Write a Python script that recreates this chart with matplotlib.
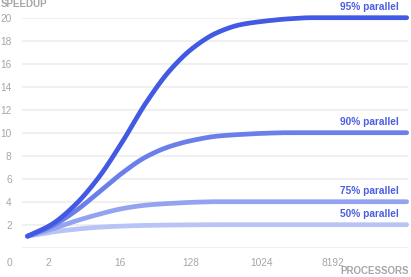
import numpy as np
import matplotlib
matplotlib.use("Agg")
import matplotlib.pyplot as plt
from matplotlib.ticker import FixedLocator, FixedFormatter, NullLocator
import matplotlib.transforms as mtransforms

plt.rcParams["font.family"] = ["Liberation Sans", "DejaVu Sans"]

# Processor counts (powers of two) and measured speedups per parallel fraction
processors = [1, 2, 4, 8, 16, 32, 64, 128, 256, 512, 1024, 2048, 4096, 8192, 16384, 32768, 65536]
speedup_95 = [1.0, 2.0, 3.7, 6.1, 9.2, 12.6, 15.4, 17.4, 18.7, 19.4, 19.7, 19.9, 20.0, 20.0, 20.0, 20.0, 20.0]
speedup_90 = [1.0, 1.85, 3.15, 4.8, 6.5, 7.9, 8.8, 9.35, 9.7, 9.85, 9.95, 10.0, 10.0, 10.0, 10.0, 10.0, 10.0]
speedup_75 = [1.0, 1.6, 2.3, 2.9, 3.4, 3.7, 3.85, 3.95, 4.0, 4.0, 4.0, 4.0, 4.0, 4.0, 4.0, 4.0, 4.0]
speedup_50 = [1.0, 1.35, 1.6, 1.78, 1.88, 1.94, 1.97, 1.99, 2.0, 2.0, 2.0, 2.0, 2.0, 2.0, 2.0, 2.0, 2.0]

series_labels = ["95% parallel", "90% parallel", "75% parallel", "50% parallel"]
x_ticks = [2, 16, 128, 1024, 8192]
x_tick_labels = ["2", "16", "128", "1024", "8192"]
y_ticks = [0, 2, 4, 6, 8, 10, 12, 14, 16, 18, 20]
y_tick_labels = ["", "2", "4", "6", "8", "10", "12", "14", "16", "18", "20"]

line_colors = ["#4159E3", "#6A7FE9", "#93A3F0", "#B8C3F6"]
label_color = "#4B5EE2"
muted = "#A6A6A6"


def monotone_curve(x, y, samples=40):
    """Smooth monotone cubic (Fritsch-Carlson) path through the points."""
    x = np.asarray(x, float)
    y = np.asarray(y, float)
    h = np.diff(x)
    d = np.diff(y) / h
    m = np.zeros_like(y)
    m[0], m[-1] = d[0], d[-1]
    for i in range(1, len(y) - 1):
        if d[i - 1] * d[i] <= 0:
            m[i] = 0.0
        else:
            w1 = 2 * h[i] + h[i - 1]
            w2 = h[i] + 2 * h[i - 1]
            m[i] = (w1 + w2) / (w1 / d[i - 1] + w2 / d[i])
    xs, ys = [], []
    for i in range(len(h)):
        t = np.linspace(0, 1, samples, endpoint=False)
        h00 = 2 * t**3 - 3 * t**2 + 1
        h10 = t**3 - 2 * t**2 + t
        h01 = -2 * t**3 + 3 * t**2
        h11 = t**3 - t**2
        xs.append(x[i] + t * h[i])
        ys.append(h00 * y[i] + h10 * h[i] * m[i] + h01 * y[i + 1] + h11 * h[i] * m[i + 1])
    xs.append([x[-1]])
    ys.append([y[-1]])
    return np.concatenate(xs), np.concatenate(ys)


W, H = 411, 277
fig = plt.figure(figsize=(W / 100, H / 100), dpi=100)
ax = fig.add_axes([22 / W, (H - 247.7) / H, (408 - 22) / W, 230 / H])

ax.set_xscale("log", base=2)
ax.set_xlim(2 ** -0.232, 2 ** 16.055)
ax.set_ylim(0, 20)

log_n = np.log2(processors)
all_series = [speedup_95, speedup_90, speedup_75, speedup_50]
for values, color, z in zip(all_series, line_colors, [5, 4, 3, 2]):
    lx, ly = monotone_curve(log_n, values)
    ax.plot(2 ** lx, ly, color=color, lw=3.4, solid_capstyle="round",
            solid_joinstyle="round", clip_on=False, zorder=z)

# Series labels above the right end of each line
for values, text in zip(all_series, series_labels):
    ax.annotate(text, xy=(processors[-1], values[-1]), xytext=(-5.8, 3.9),
                textcoords="offset points", ha="right", va="bottom",
                fontsize=7.3, fontweight="bold", color=label_color)

ax.yaxis.set_major_locator(FixedLocator(y_ticks))
ax.yaxis.set_major_formatter(FixedFormatter(y_tick_labels))
ax.xaxis.set_major_locator(FixedLocator(x_ticks))
ax.xaxis.set_major_formatter(FixedFormatter(x_tick_labels))
ax.xaxis.set_minor_locator(NullLocator())
ax.tick_params(axis="y", length=0, pad=7.4, labelsize=7.3, labelcolor=muted)
ax.tick_params(axis="x", length=0, pad=7.5, labelsize=7.3, labelcolor=muted)
for lab in ax.get_xticklabels():
    lab.set_transform(lab.get_transform() +
                      mtransforms.ScaledTranslation(-2.5 / 100, 0, fig.dpi_scale_trans))

ax.grid(axis="y", color="#EFEFEF", lw=1.3, zorder=0)
ax.grid(axis="x", visible=False)
for s in ax.spines.values():
    s.set_visible(False)

fig.text(12 / W, 1 - 262.5 / H, "0", ha="right", va="center", fontsize=7.3, color=muted)
fig.text(0.5 / W, 1 - 4 / H, "SPEEDUP", ha="left", va="center", fontsize=7,
         fontweight="bold", color=muted)
fig.text(409 / W, 1 - 271.5 / H, "PROCESSORS", ha="right", va="center", fontsize=7,
         fontweight="bold", color=muted)

fig.savefig("out.png", dpi=100)
